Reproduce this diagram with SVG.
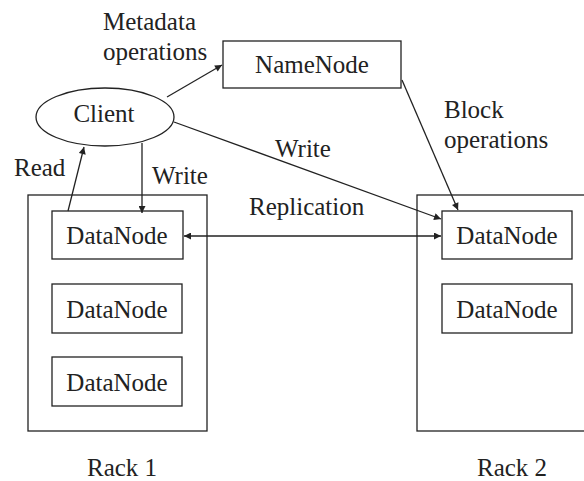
<svg xmlns="http://www.w3.org/2000/svg" width="584" height="481" viewBox="0 0 584 481">
<style>
  .box { fill: none; stroke: #222; stroke-width: 1.3; }
  .lbl { font-family: 'Liberation Serif', 'DejaVu Serif', serif; font-size: 25px; fill: #222; }
  .mid { text-anchor: middle; }
  .edge { stroke: #222; stroke-width: 1.3; fill: none; }
</style>
<defs>
  <marker id="ah" viewBox="0 0 10 10" refX="10" refY="5" markerWidth="9" markerHeight="7" markerUnits="userSpaceOnUse" orient="auto-start-reverse">
    <path d="M0,0 L10,5 L0,10 z" fill="#222"/>
  </marker>
</defs>
<rect width="584" height="481" fill="#ffffff"/>

<g id="rack1">
  <rect class="box" x="28" y="195" width="179" height="236"/>
  <text class="lbl" x="87" y="476">Rack 1</text>
</g>
<g id="rack2">
  <rect class="box" x="417" y="195" width="190" height="236"/>
  <text class="lbl" x="477" y="476">Rack 2</text>
</g>

<g id="client">
  <ellipse class="box" cx="105" cy="117" rx="69" ry="29"/>
  <text class="lbl mid" x="104" y="122">Client</text>
</g>
<g id="namenode">
  <rect class="box" x="223" y="41" width="178" height="47"/>
  <text class="lbl mid" x="312" y="73">NameNode</text>
</g>

<g id="dn-l1">
  <rect class="box" x="52" y="211" width="131" height="48"/>
  <text class="lbl mid" x="117" y="244">DataNode</text>
</g>
<g id="dn-l2">
  <rect class="box" x="52" y="284" width="130" height="49"/>
  <text class="lbl mid" x="117" y="318">DataNode</text>
</g>
<g id="dn-l3">
  <rect class="box" x="52" y="357" width="130" height="49"/>
  <text class="lbl mid" x="117" y="391">DataNode</text>
</g>
<g id="dn-r1">
  <rect class="box" x="442" y="211" width="130" height="48"/>
  <text class="lbl mid" x="507" y="244">DataNode</text>
</g>
<g id="dn-r2">
  <rect class="box" x="442" y="284" width="130" height="49"/>
  <text class="lbl mid" x="507" y="318">DataNode</text>
</g>

<g id="connectors">
  <line class="edge" x1="167" y1="97" x2="222" y2="65" marker-end="url(#ah)"/>
  <line class="edge" x1="174" y1="122" x2="441" y2="219" marker-end="url(#ah)"/>
  <line class="edge" x1="402" y1="80" x2="458" y2="210" marker-end="url(#ah)"/>
  <line class="edge" x1="184" y1="236" x2="441" y2="236" marker-start="url(#ah)" marker-end="url(#ah)"/>
  <line class="edge" x1="68" y1="211" x2="84" y2="147" marker-end="url(#ah)"/>
  <line class="edge" x1="142" y1="143" x2="142" y2="213" marker-end="url(#ah)"/>
</g>

<g id="edge-labels">
  <text class="lbl" x="103" y="30">Metadata</text>
  <text class="lbl" x="103" y="60">operations</text>
  <text class="lbl" x="444" y="118">Block</text>
  <text class="lbl" x="444" y="148">operations</text>
  <text class="lbl" x="275" y="157">Write</text>
  <text class="lbl" x="249" y="215">Replication</text>
  <text class="lbl" x="14" y="176">Read</text>
  <text class="lbl" x="152" y="184">Write</text>
</g>
</svg>
